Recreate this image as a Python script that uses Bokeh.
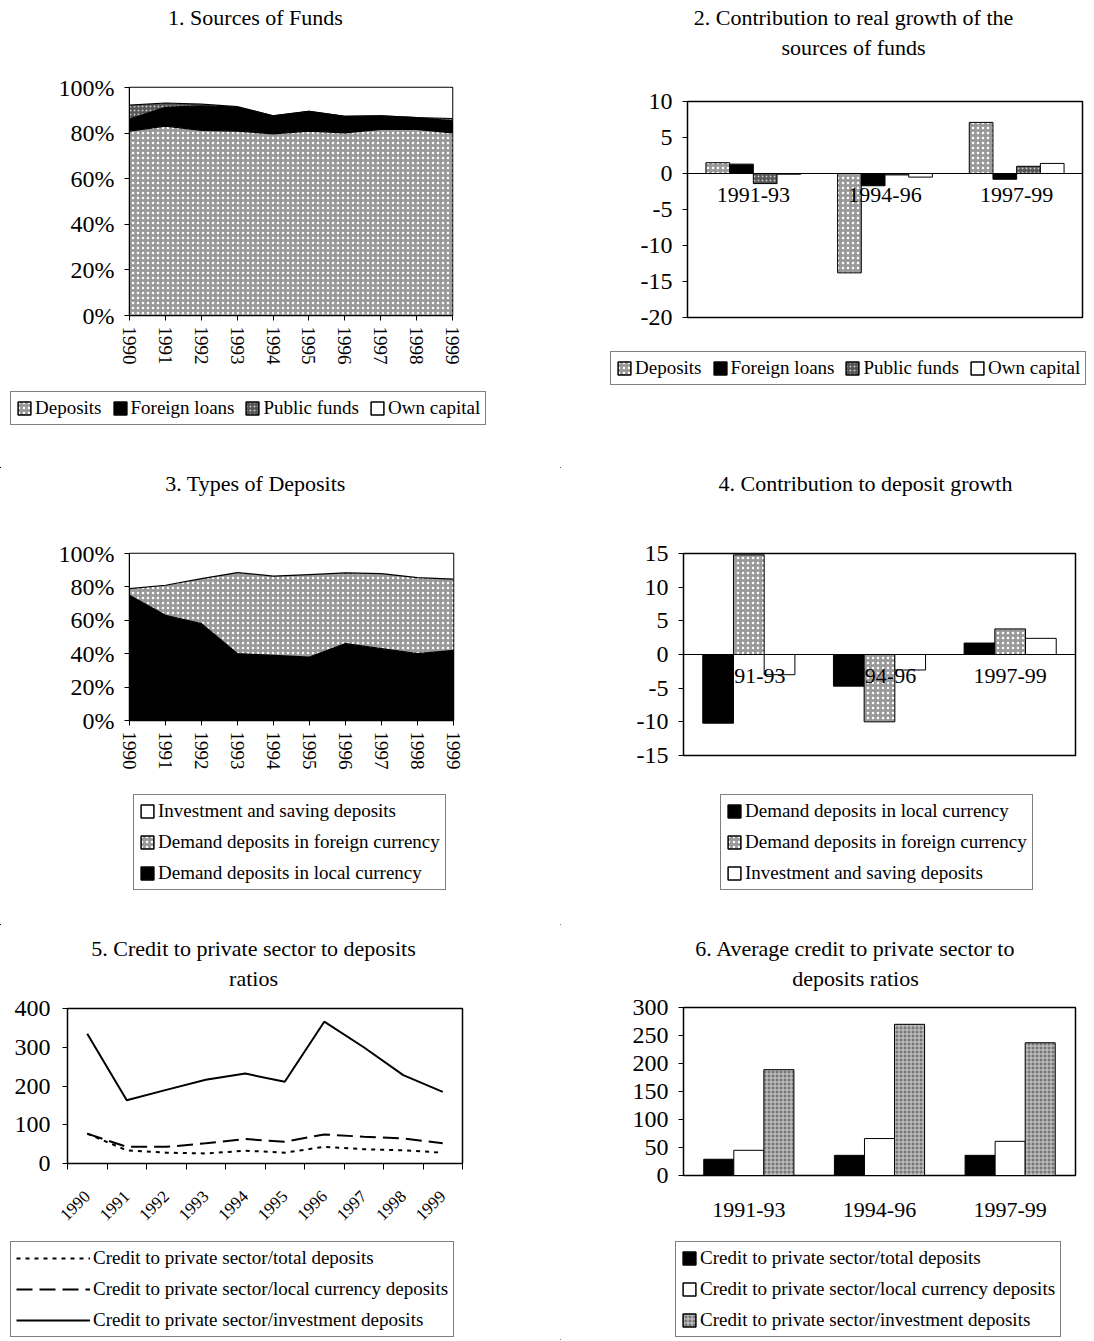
import math
from bokeh.plotting import figure
from bokeh.models import (ColumnDataSource, Range1d, FixedTicker, PrintfTickFormatter,
                          Legend, LegendItem, FactorRange, Label)
from bokeh.layouts import column, row
from bokeh.transform import dodge
from bokeh.embed import file_html
from bokeh.resources import INLINE

FONT = "Liberation Serif"

# ---------------- data ----------------
years = [1990, 1991, 1992, 1993, 1994, 1995, 1996, 1997, 1998, 1999]
periods = ["1991-93", "1994-96", "1997-99"]

# 1. Sources of funds (% of total)
p1_deposits = [80.9, 83.1, 81.2, 80.9, 79.7, 80.9, 80.1, 81.6, 81.6, 80.1]
p1_foreign = [5.2, 8.2, 10.8, 10.5, 7.9, 8.6, 7.2, 6.0, 5.2, 5.3]
p1_public = [6.2, 1.9, 0.7, 0.2, 0.0, 0.0, 0.0, 0.0, 0.0, 1.0]
p1_own = [7.7, 6.8, 7.3, 8.4, 12.4, 10.5, 12.7, 12.4, 13.2, 13.6]
pct_ticks = [0, 20, 40, 60, 80, 100]

# 2. Contribution to real growth of the sources of funds
p2_deposits = [1.5, -13.8, 7.1]
p2_foreign = [1.3, -1.7, -0.8]
p2_public = [-1.4, -0.2, 1.0]
p2_own = [-0.1, -0.5, 1.4]
p2_yticks = [-20, -15, -10, -5, 0, 5, 10]

# 3. Types of deposits (% of total)
p3_local = [75.0, 63.0, 58.0, 40.0, 39.0, 38.0, 46.0, 43.0, 40.0, 42.0]
p3_foreign = [4.0, 18.0, 27.0, 48.6, 47.4, 49.4, 42.4, 45.0, 45.6, 42.6]
p3_invest = [21.0, 19.0, 15.0, 11.4, 13.6, 12.6, 11.6, 12.0, 14.4, 15.4]

# 4. Contribution to deposit growth
p4_local = [-10.2, -4.7, 1.7]
p4_foreign = [14.8, -10.0, 3.8]
p4_invest = [-3.0, -2.3, 2.4]
p4_yticks = [-15, -10, -5, 0, 5, 10, 15]

# 5. Credit to private sector to deposits ratios
p5_total = [77, 34, 28, 26, 33, 28, 43, 37, 34, 28]
p5_local = [77, 43, 43, 52, 63, 56, 75, 69, 65, 52]
p5_invest = [335, 163, 190, 216, 232, 211, 366, 300, 228, 185]
p5_yticks = [0, 100, 200, 300, 400]

# 6. Average credit to private sector to deposits ratios
p6_total = [29, 36, 36]
p6_local = [45, 66, 61]
p6_invest = [189, 270, 237]
p6_yticks = [0, 50, 100, 150, 200, 250, 300]

# titles and legend labels
title1 = ["1. Sources of Funds"]
title2 = ["2. Contribution to real growth of the", "sources of funds"]
title3 = ["3. Types of Deposits"]
title4 = ["4. Contribution to deposit growth"]
title5 = ["5. Credit to private sector to deposits", "ratios"]
title6 = ["6. Average credit to private sector to", "deposits ratios"]
names1 = ["Deposits", "Foreign loans", "Public funds", "Own capital"]
names3 = ["Investment and saving deposits", "Demand deposits in foreign currency",
          "Demand deposits in local currency"]
names4 = ["Demand deposits in local currency", "Demand deposits in foreign currency",
          "Investment and saving deposits"]
names5 = ["Credit to private sector/total deposits",
          "Credit to private sector/local currency deposits",
          "Credit to private sector/investment deposits"]

# ---------------- styles ----------------
LIGHT = dict(fill_color="#9a9a9a", hatch_pattern="dot", hatch_color="white", hatch_scale=5, hatch_weight=1)
DARK = dict(fill_color="#555555", hatch_pattern="dot", hatch_color="#c8c8c8", hatch_scale=4, hatch_weight=1)
MID = dict(fill_color="#777777", hatch_pattern="cross", hatch_color="#d0d0d0", hatch_scale=4, hatch_weight=1)
BLACK = dict(fill_color="black")
WHITE = dict(fill_color="white")
LW, RW = 560, 530


def blank_fig(w, h):
    # view window far away from any data value, so legend proxies never show
    p = figure(width=w, height=h, x_range=Range1d(1000, 1001), y_range=Range1d(1000, 1001),
               toolbar_location=None, output_backend="svg",
               x_axis_location=None, y_axis_location=None,
               min_border_left=0, min_border_right=0, min_border_top=0, min_border_bottom=0)
    p.xgrid.visible = False
    p.ygrid.visible = False
    p.outline_line_color = None
    return p


def title_fig(w, h, lines, cx, ys):
    p = blank_fig(w, h)
    for t, y in zip(lines, ys):
        p.add_layout(Label(x=cx, y=y, x_units="screen", y_units="screen", text=t,
                           text_align="center", text_baseline="middle", text_font=FONT,
                           text_font_size="22px", text_color="black"))
    return p


def chart_fig(w, h, x_range, y_range, bl, br, bt, bb):
    p = figure(width=w, height=h, x_range=x_range, y_range=y_range,
               toolbar_location=None, output_backend="svg",
               min_border_left=bl, min_border_right=br, min_border_top=bt, min_border_bottom=bb)
    p.xgrid.visible = False
    p.ygrid.visible = False
    p.outline_line_color = "black"
    p.outline_line_width = 1.5
    for ax in (p.xaxis[0], p.yaxis[0]):
        ax.axis_line_color = "black"
        ax.major_tick_line_color = "black"
        ax.minor_tick_line_color = None
        ax.major_tick_in = 0
        ax.major_tick_out = 5
        ax.major_label_text_font = FONT
        ax.major_label_text_font_size = "24px"
        ax.major_label_text_color = "black"
    p.yaxis.major_label_standoff = 10
    p.yaxis.formatter = PrintfTickFormatter(format="%d")
    return p


def legend_fig(w, h, names, kind, styles, series, loc, orientation="vertical", glyph_w=16):
    # legend proxies: drawn from the chart's own series but lying outside this blank
    # figure's view, so only their legend swatches are visible
    p = blank_fig(w, h)
    rs = []
    for s, vals in zip(styles, series):
        xs = list(range(2, 2 + len(vals)))
        if kind == "line":
            rs.append(p.line(x=xs, y=vals, line_color="black", line_width=2, line_dash=s))
        else:
            rs.append(p.vbar(x=xs, top=vals, bottom=5, width=0.5, line_color="black",
                             line_width=1.5, **s))
    lg = Legend(items=[LegendItem(label=n, renderers=[r]) for n, r in zip(names, rs)])
    lg.location = loc
    lg.orientation = orientation
    lg.label_text_font = FONT
    lg.label_text_font_size = "19px"
    lg.label_text_color = "black"
    lg.border_line_color = "black"
    lg.border_line_width = 1
    lg.background_fill_color = "white"
    lg.glyph_width = glyph_w
    lg.glyph_height = 16
    lg.label_standoff = 3
    lg.label_height = 21
    lg.spacing = 9 if orientation == "vertical" else 10
    lg.padding = 5
    lg.margin = 0
    p.add_layout(lg)
    return p


# ---------------- panel 1 ----------------
t1 = title_fig(LW, 40, title1, 255, [23])
src1 = ColumnDataSource(dict(x=years, dep=p1_deposits, fl=p1_foreign, pf=p1_public, oc=p1_own))
p1 = chart_fig(LW, 340, Range1d(years[0], years[-1]), Range1d(0, 100), 129, 108, 47, 65)
styles1 = [LIGHT, BLACK, DARK, WHITE]
p1.varea_stack(["dep", "fl", "pf", "oc"], x="x", source=src1,
               fill_color=[s["fill_color"] for s in styles1],
               hatch_pattern=["dot", " ", "dot", " "],
               hatch_color=["white", "white", "#c8c8c8", "white"],
               hatch_scale=[5, 5, 4, 5])
p1.vline_stack(["dep", "fl", "pf"], x="x", source=src1, line_color="black", line_width=1.2)
p1.xaxis.ticker = FixedTicker(ticks=years)
p1.xaxis.major_label_orientation = "vertical"
p1.xaxis.major_label_text_font_size = "19px"
p1.xaxis.major_label_standoff = 6
p1.yaxis.ticker = FixedTicker(ticks=pct_ticks)
p1.yaxis.formatter = PrintfTickFormatter(format="%d%%")
g1 = legend_fig(LW, 88, names1, "box", styles1, [p1_deposits, p1_foreign, p1_public, p1_own],
                (10, 43), "horizontal")

# ---------------- panel 2 ----------------
t2 = title_fig(RW, 70, title2, 293, [53, 23])
src2 = ColumnDataSource(dict(x=periods, dep=p2_deposits, fl=p2_foreign, pf=p2_public, oc=p2_own))
p2 = chart_fig(RW, 275, FactorRange(*periods), Range1d(-20, 10), 127, 8, 31, 28)
for col, off, s in zip(["dep", "fl", "pf", "oc"], [-0.27, -0.09, 0.09, 0.27], styles1):
    p2.vbar(x=dodge("x", off, range=p2.x_range), top=col, width=0.18, source=src2,
            line_color="black", line_width=1, **s)
p2.yaxis.ticker = FixedTicker(ticks=p2_yticks)
p2.xaxis.fixed_location = 0
p2.xaxis.major_tick_out = 0
p2.xaxis.major_label_standoff = 14
p2.xaxis.major_label_text_font_size = "22px"
g2 = legend_fig(RW, 123, names1, "box", styles1, [p2_deposits, p2_foreign, p2_public, p2_own],
                (50, 83), "horizontal")

# ---------------- panel 3 ----------------
t3 = title_fig(LW, 42, title3, 255, [27])
src3 = ColumnDataSource(dict(x=years, loc=p3_local, fc=p3_foreign, inv=p3_invest))
p3 = chart_fig(LW, 280, Range1d(years[0], years[-1]), Range1d(0, 100), 129, 107, 43, 70)
p3.varea_stack(["loc", "fc", "inv"], x="x", source=src3,
               fill_color=["black", LIGHT["fill_color"], "white"],
               hatch_pattern=[" ", "dot", " "], hatch_color="white", hatch_scale=5)
p3.vline_stack(["loc", "fc"], x="x", source=src3, line_color="black", line_width=1.2)
p3.xaxis.ticker = FixedTicker(ticks=years)
p3.xaxis.major_label_orientation = "vertical"
p3.xaxis.major_label_text_font_size = "19px"
p3.xaxis.major_label_standoff = 6
p3.yaxis.ticker = FixedTicker(ticks=pct_ticks)
p3.yaxis.formatter = PrintfTickFormatter(format="%d%%")
g3 = legend_fig(LW, 135, names3, "box", [WHITE, LIGHT, BLACK], [p3_invest, p3_foreign, p3_local],
                (133, 35))

# ---------------- panel 4 ----------------
t4 = title_fig(RW, 42, title4, 305, [27])
src4 = ColumnDataSource(dict(x=periods, loc=p4_local, fc=p4_foreign, inv=p4_invest))
p4 = chart_fig(RW, 280, FactorRange(*periods), Range1d(-15, 15), 123, 15, 43, 35)
for col, off, s in zip(["loc", "fc", "inv"], [-0.235, 0.0, 0.235], [BLACK, LIGHT, WHITE]):
    p4.vbar(x=dodge("x", off, range=p4.x_range), top=col, width=0.235, source=src4,
            line_color="black", line_width=1, **s)
p4.yaxis.ticker = FixedTicker(ticks=p4_yticks)
p4.xaxis.fixed_location = 0
p4.xaxis.major_tick_out = 0
p4.xaxis.major_label_standoff = 14
p4.xaxis.major_label_text_font_size = "22px"
g4 = legend_fig(RW, 135, names4, "box", [BLACK, LIGHT, WHITE], [p4_local, p4_foreign, p4_invest],
                (160, 35))

# ---------------- panel 5 ----------------
t5 = title_fig(LW, 70, title5, 253, [47, 17])
src5 = ColumnDataSource(dict(x=years, tot=p5_total, loc=p5_local, inv=p5_invest))
p5 = chart_fig(LW, 245, Range1d(years[0] - 0.5, years[-1] + 0.5), Range1d(0, 400), 67, 98, 13, 77)
p5.line("x", "tot", source=src5, line_color="black", line_width=2, line_dash="4 5")
p5.line("x", "loc", source=src5, line_color="black", line_width=2, line_dash="16 7")
p5.line("x", "inv", source=src5, line_color="black", line_width=2)
bounds5 = [y - 0.5 for y in years] + [years[-1] + 0.5]
p5.xaxis.ticker = FixedTicker(ticks=years, minor_ticks=bounds5)
p5.xaxis.major_tick_out = 0
p5.xaxis.minor_tick_line_color = "black"
p5.xaxis.minor_tick_in = 0
p5.xaxis.minor_tick_out = 6
p5.xaxis.major_label_orientation = math.pi / 4
p5.xaxis.major_label_text_font_size = "17px"
p5.xaxis.major_label_standoff = 24
p5.yaxis.ticker = FixedTicker(ticks=p5_yticks)
p5.yaxis.major_label_standoff = 12
g5 = legend_fig(LW, 100, names5, "line", ["4 5", "16 7", "solid"], [p5_total, p5_local, p5_invest],
                (10, 3), glyph_w=74)

# ---------------- panel 6 ----------------
t6 = title_fig(RW, 70, title6, 295, [47, 17])
src6 = ColumnDataSource(dict(x=periods, tot=p6_total, loc=p6_local, inv=p6_invest))
p6 = chart_fig(RW, 245, FactorRange(*periods), Range1d(0, 300), 123, 15, 12, 65)
for col, off, s in zip(["tot", "loc", "inv"], [-0.23, 0.0, 0.23], [BLACK, WHITE, MID]):
    p6.vbar(x=dodge("x", off, range=p6.x_range), top=col, width=0.23, source=src6,
            line_color="black", line_width=1, **s)
p6.yaxis.ticker = FixedTicker(ticks=p6_yticks)
p6.xaxis.major_tick_out = 0
p6.xaxis.major_label_standoff = 27
p6.xaxis.major_label_text_font_size = "22px"
g6 = legend_fig(RW, 100, names5, "box", [BLACK, WHITE, MID], [p6_total, p6_local, p6_invest],
                (115, 3))

left = column(*[row(f) for f in (t1, p1, g1, t3, p3, g3, t5, p5, g5)])
right = column(*[row(f) for f in (t2, p2, g2, t4, p4, g4, t6, p6, g6)])
layout = row(left, right)
open("out.html", "w").write(file_html(layout, INLINE))
